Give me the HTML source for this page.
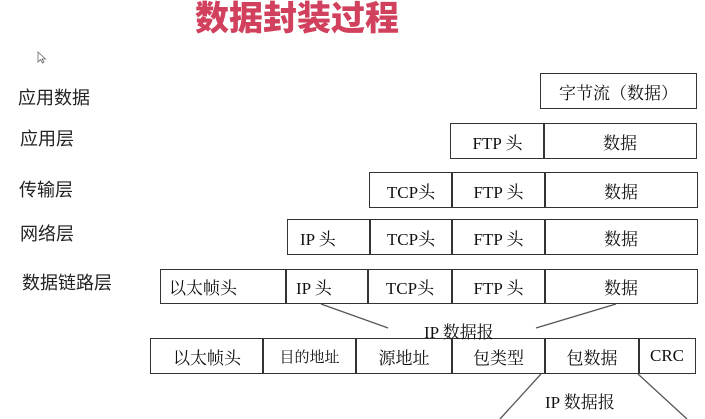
<!DOCTYPE html>
<html><head><meta charset="utf-8"><style>
body{margin:0;width:705px;height:419px;background:#fff;position:relative;overflow:hidden;font-family:"Liberation Serif","Noto Serif CJK SC","Noto Sans CJK SC",serif;color:#111}
.b{position:absolute;border:1.5px solid #333;box-sizing:border-box;display:flex;align-items:center;justify-content:center;font-size:17px;white-space:nowrap}
.l{position:absolute;font-family:"Liberation Sans","Noto Sans CJK SC",sans-serif;font-size:18px;color:#222;line-height:20px}
.t{position:absolute;font-size:17px;white-space:nowrap}
</style></head><body>
<div style="position:absolute;left:195px;top:1px;font-family:'Liberation Sans','Noto Sans CJK SC',sans-serif;font-weight:900;font-size:34px;color:#d1405c;line-height:36px">数据封装过程</div>
<svg style="position:absolute;left:37px;top:51px" width="10" height="14"><path d="M1 1 L1 11 L3.5 8.5 L5.5 12 L7 11 L5 8 L8.5 8 Z" fill="#fff" stroke="#666" stroke-width="0.8"/></svg>
<div class="l" style="left:18px;top:88px">应用数据</div>
<div class="l" style="left:20px;top:129px">应用层</div>
<div class="l" style="left:19px;top:180px">传输层</div>
<div class="l" style="left:20px;top:224px">网络层</div>
<div class="l" style="left:22px;top:273px">数据链路层</div>

<div class="b" style="left:540px;top:73px;width:157px;height:36px">字节流（数据）</div>

<div class="b" style="left:450px;top:123px;width:95px;height:36px">FTP 头</div>
<div class="b" style="left:543px;top:123px;width:154px;height:36px">数据</div>

<div class="b" style="left:369px;top:172px;width:84px;height:36px">TCP头</div>
<div class="b" style="left:451px;top:172px;width:95px;height:36px">FTP 头</div>
<div class="b" style="left:544px;top:172px;width:154px;height:36px">数据</div>

<div class="b" style="left:287px;top:219px;width:84px;height:36px;justify-content:flex-start;padding-left:12px">IP 头</div>
<div class="b" style="left:369px;top:219px;width:84px;height:36px">TCP头</div>
<div class="b" style="left:451px;top:219px;width:95px;height:36px">FTP 头</div>
<div class="b" style="left:544px;top:219px;width:154px;height:36px">数据</div>

<div class="b" style="left:160px;top:269px;width:127px;height:35px;justify-content:flex-start;padding-left:8px">以太帧头</div>
<div class="b" style="left:285px;top:269px;width:84px;height:35px;justify-content:flex-start;padding-left:10px">IP 头</div>
<div class="b" style="left:367px;top:269px;width:86px;height:35px">TCP头</div>
<div class="b" style="left:451px;top:269px;width:95px;height:35px">FTP 头</div>
<div class="b" style="left:544px;top:269px;width:154px;height:35px">数据</div>

<div class="b" style="left:150px;top:338px;width:114px;height:36px">以太帧头</div>
<div class="b" style="left:262px;top:338px;width:95px;height:36px;font-size:15px">目的地址</div>
<div class="b" style="left:355px;top:338px;width:98px;height:36px">源地址</div>
<div class="b" style="left:451px;top:338px;width:95px;height:36px">包类型</div>
<div class="b" style="left:544px;top:338px;width:96px;height:36px">包数据</div>
<div class="b" style="left:638px;top:338px;width:58px;height:36px">CRC</div>

<svg style="position:absolute;left:0;top:0" width="705" height="419">
<g stroke="#555" stroke-width="1.3">
<line x1="321" y1="304" x2="388" y2="328"/>
<line x1="616" y1="304" x2="536" y2="328"/>
<line x1="541" y1="374" x2="500" y2="419"/>
<line x1="638" y1="374" x2="687" y2="419"/>
</g></svg>
<div class="t" style="left:424px;top:318px">IP 数据报</div>
<div class="t" style="left:545px;top:388px">IP 数据报</div>
</body></html>
